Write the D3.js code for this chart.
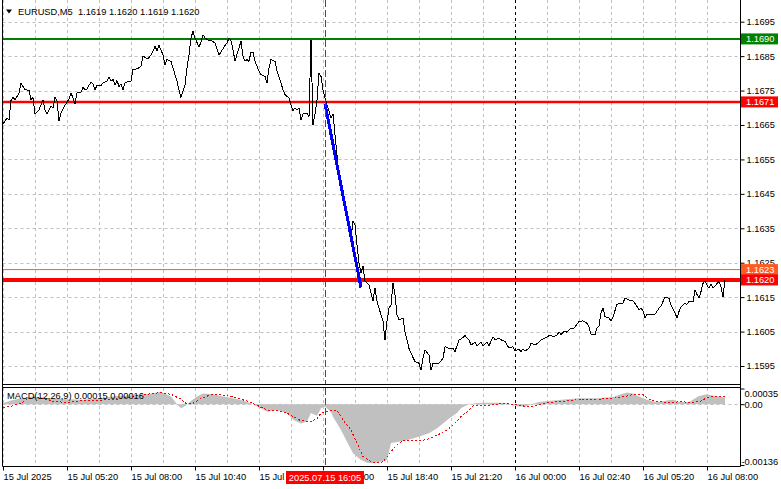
<!DOCTYPE html>
<html><head><meta charset="utf-8">
<script src="https://cdn.jsdelivr.net/npm/d3@7"></script>
<style>
html,body{margin:0;padding:0;background:#fff;}
svg{display:block;font-family:'Liberation Sans',Arial,sans-serif;}
</style></head><body>
<svg id="c" width="781" height="489"></svg>
<script>
// ---------- DATA ----------
const chartTitle = "EURUSD,M5  1.1619 1.1620 1.1619 1.1620";
const macdTitle = "MACD(12,26,9) 0.00015 0.00016";

// bar index (M5 bars from 15 Jul 02:40) and close price
const priceBars = [0,2,3,4,5,6,8,9,11,13,14,15,16,18,20,21,22,24,25,26,27,28,29,31,33,34,35,36,37,39,40,41,42,44,45,46,47,49,50,52,53,54,55,56,57,58,59,60,61,62,64,65,67,69,70,72,73,74,75,76,77,78,80,81,82,84,85,87,88,89,91,92,93,94,95,96,98,99,100,101,103,104,106,108,109,111,112,113,114,115,116,117,119,120,121,122,123,124,125,126,128,129,131,132,133,134,136,137,139,140,141,143,144,145,146,147,148,149,150,152,153,154,155,156,157,158,159,160,161,162,163,164,165,166,167,168,169,170,171,172,173,174,175,176,177,178,179,180,181,182,183,185,186,187,188,190,191,192,193,194,195,196,197,198,200,201,203,204,206,208,209,210,211,213,214,215,218,220,221,223,225,226,228,229,231,233,234,236,237,239,240,242,243,245,246,248,249,251,252,253,255,256,258,259,260,261,263,264,266,268,269,271,273,274,275,277,278,279,281,282,283,284,285,286,288,290,292,293,294,296,297,298,299,300,301,303,304,305,307,308,310,311,313,315,316,318,319,320,321,322,326,328,329,330,331,333,334,336,337,338,339,341,342,343,345,346,347,348,349,350,351,352,353,354,355,356,358,359,360,361];
const priceClose = [1.16653,1.16670,1.16665,1.16721,1.16730,1.16723,1.16743,1.16772,1.16752,1.16751,1.16723,1.16730,1.16682,1.16694,1.16723,1.16694,1.16682,1.16704,1.16699,1.16730,1.16721,1.16662,1.16685,1.16707,1.16726,1.16743,1.16728,1.16711,1.16743,1.16745,1.16759,1.16752,1.16755,1.16775,1.16769,1.16752,1.16765,1.16765,1.16772,1.16777,1.16789,1.16777,1.16782,1.16767,1.16779,1.16762,1.16769,1.16752,1.16772,1.16775,1.16777,1.16811,1.16813,1.16820,1.16850,1.16843,1.16845,1.16854,1.16864,1.16879,1.16866,1.16881,1.16854,1.16825,1.16840,1.16835,1.16816,1.16777,1.16752,1.16730,1.16767,1.16816,1.16854,1.16903,1.16922,1.16903,1.16876,1.16891,1.16912,1.16903,1.16895,1.16896,1.16888,1.16854,1.16862,1.16881,1.16888,1.16903,1.16895,1.16869,1.16835,1.16856,1.16893,1.16850,1.16835,1.16840,1.16835,1.16862,1.16861,1.16835,1.16806,1.16796,1.16791,1.16772,1.16816,1.16840,1.16835,1.16806,1.16772,1.16752,1.16738,1.16728,1.16709,1.16692,1.16699,1.16694,1.16699,1.16665,1.16682,1.16685,1.16675,1.16898,1.16651,1.16682,1.16723,1.16801,1.16791,1.16752,1.16728,1.16709,1.16690,1.16670,1.16682,1.16622,1.16564,1.16506,1.16491,1.16457,1.16428,1.16389,1.16351,1.16322,1.16370,1.16360,1.16302,1.16249,1.16220,1.16240,1.16196,1.16191,1.16186,1.16138,1.16177,1.16138,1.16118,1.16080,1.16026,1.16080,1.16118,1.16128,1.16191,1.16157,1.16099,1.16084,1.16089,1.16050,1.16001,1.15987,1.15963,1.15958,1.15938,1.15972,1.15997,1.15982,1.15938,1.15958,1.15958,1.15972,1.16006,1.16001,1.16001,1.15992,1.16026,1.16028,1.16038,1.16026,1.16011,1.16019,1.16009,1.16019,1.16009,1.16019,1.16009,1.16035,1.16026,1.16031,1.16026,1.16021,1.16011,1.16003,1.16006,1.15994,1.15999,1.15992,1.15999,1.15994,1.16001,1.16016,1.16011,1.16019,1.16026,1.16031,1.16038,1.16040,1.16035,1.16040,1.16048,1.16042,1.16052,1.16048,1.16055,1.16061,1.16057,1.16064,1.16079,1.16081,1.16074,1.16064,1.16042,1.16040,1.16061,1.16067,1.16103,1.16119,1.16093,1.16090,1.16081,1.16093,1.16129,1.16132,1.16132,1.16148,1.16142,1.16139,1.16132,1.16113,1.16119,1.16110,1.16090,1.16100,1.16100,1.16118,1.16125,1.16137,1.16150,1.16147,1.16127,1.16103,1.16090,1.16108,1.16122,1.16132,1.16129,1.16137,1.16137,1.16171,1.16158,1.16148,1.16166,1.16190,1.16197,1.16185,1.16176,1.16187,1.16176,1.16183,1.16195,1.16180,1.16151,1.16200];

// MACD histogram (main) and signal
const histBars = [0,4,9,15,24,32,40,49,57,65,74,79,84,87,89,91,94,97,100,105,110,115,120,125,129,132,137,142,145,149,152,154,157,159,161,164,165,169,172,175,179,182,185,189,192,194,201,207,213,217,220,223,227,229,232,234,236,240,247,252,255,258,262,265,268,272,277,282,288,297,305,309,312,315,318,322,327,332,335,338,343,348,352,355,361];
const histVals = [0.00002,0.00008,0.00013,0.00017,0.00013,0.00011,0.00010,0.00013,0.00018,0.00020,0.00024,0.00028,0.00017,0.00000,-0.00009,-0.00004,0.00007,0.00017,0.00024,0.00022,0.00017,0.00013,0.00008,0.00000,-0.00009,-0.00017,-0.00013,-0.00020,-0.00035,-0.00043,-0.00039,-0.00020,-0.00026,-0.00009,-0.00006,-0.00017,-0.00028,-0.00058,-0.00084,-0.00110,-0.00125,-0.00131,-0.00132,-0.00128,-0.00125,-0.00087,-0.00082,-0.00074,-0.00065,-0.00054,-0.00043,-0.00032,-0.00020,-0.00009,-0.00002,0.00000,0.00002,0.00003,0.00003,0.00002,-0.00002,-0.00005,-0.00004,0.00001,0.00005,0.00007,0.00009,0.00011,0.00013,0.00013,0.00016,0.00022,0.00026,0.00024,0.00017,0.00010,0.00004,0.00008,0.00010,0.00005,0.00005,0.00018,0.00022,0.00019,0.00015];
const signalBars = [0,4,9,12,15,20,25,32,40,49,57,65,72,79,84,89,92,95,99,104,109,114,119,124,129,132,137,142,145,149,154,157,159,164,167,170,174,177,180,184,187,190,194,197,200,205,210,214,219,222,225,229,232,235,239,244,250,255,260,264,267,272,277,282,289,297,305,312,315,320,324,327,334,339,344,349,352,355,361];
const signalVals = [-0.00007,-0.00005,0.00002,0.00011,0.00015,0.00013,0.00006,0.00004,0.00008,0.00009,0.00011,0.00017,0.00022,0.00026,0.00022,0.00011,0.00000,0.00002,0.00013,0.00021,0.00021,0.00017,0.00011,0.00004,-0.00007,-0.00013,-0.00014,-0.00020,-0.00028,-0.00037,-0.00039,-0.00032,-0.00020,-0.00013,-0.00014,-0.00035,-0.00058,-0.00087,-0.00117,-0.00129,-0.00131,-0.00129,-0.00106,-0.00091,-0.00082,-0.00082,-0.00081,-0.00076,-0.00065,-0.00058,-0.00047,-0.00028,-0.00017,-0.00004,-0.00002,-0.00002,0.00002,0.00000,-0.00004,-0.00006,-0.00002,0.00003,0.00006,0.00007,0.00011,0.00011,0.00013,0.00018,0.00022,0.00021,0.00009,0.00006,0.00003,0.00006,0.00003,0.00007,0.00015,0.00018,0.00016];

// horizontal levels
const levelValues = [1.16900, 1.16717, 1.16230, 1.16200];
const levelLabels = ["1.1690", "1.1671", "1.1623", "1.1620"];
// trend segment (blue)
const trendBars = [161, 179];
const trendPrices = [1.16712, 1.16178];

// axes
const priceTicks = [1.1595,1.1605,1.1615,1.1625,1.1635,1.1645,1.1655,1.1665,1.1675,1.1685,1.1695];
const macdTicks = [0.00035, 0, -0.00136];
const macdTickLabels = ["0.00035", "0.00", "-0.00136"];
const timeTickBars = [0,32,64,96,128,160,192,224,256,288,320,352];
const timeTickLabels = ["15 Jul 2025","15 Jul 05:20","15 Jul 08:00","15 Jul 10:40","15 Jul 13:20","15 Jul 16:00","15 Jul 18:40","15 Jul 21:20","16 Jul 00:00","16 Jul 02:40","16 Jul 05:20","16 Jul 08:00"];
const gridBars = d3.range(0, 368, 16);
const markerBar = 161, markerLabel = "2025.07.15 16:05";
const daySepBar = 256;

// ---------- STYLE / LAYOUT ----------
const levelStyles = [
  {color:"#008000", width:2},
  {color:"#ff0000", width:2.5},
  {color:"#ff5a1f", width:1},
  {color:"#ff0000", width:4}
];
const FS = 9.3;
const L = 2.5, R = 740.5, mainBot = 384.5, mTop = 387.5, mBot = 466.5;

const svg = d3.select("#c");
const x = d3.scaleLinear().domain([0, 368.5]).range([3, 740]);
const y = d3.scaleLinear().domain([1.1595, 1.1695]).range([366.0, 21.7]);
const ym = d3.scaleLinear().domain([-0.00136, 0.00035]).range([465, 388.5]);

const defs = svg.append("defs");
defs.append("clipPath").attr("id","cm").append("rect").attr("x",3).attr("y",0).attr("width",737).attr("height",384);
defs.append("clipPath").attr("id","cd").append("rect").attr("x",3).attr("y",388).attr("width",737).attr("height",78);

// grid - main
const gMain = svg.append("g").attr("clip-path","url(#cm)");
gMain.selectAll("line.hg").data(priceTicks).join("line")
  .attr("x1",L).attr("x2",R).attr("y1",d=>Math.round(y(d))+0.5).attr("y2",d=>Math.round(y(d))+0.5)
  .attr("stroke","#c0c0c0").attr("stroke-dasharray","3,3");
gMain.selectAll("line.vg").data(gridBars).join("line")
  .attr("x1",d=>Math.round(x(d))+0.5).attr("x2",d=>Math.round(x(d))+0.5).attr("y1",0).attr("y2",384)
  .attr("stroke","#c0c0c0").attr("stroke-dasharray","3,3");

// grid - macd
const gM = svg.append("g").attr("clip-path","url(#cd)");
gM.selectAll("line.vg").data(gridBars).join("line")
  .attr("x1",d=>Math.round(x(d))+0.5).attr("x2",d=>Math.round(x(d))+0.5).attr("y1",388).attr("y2",466)
  .attr("stroke","#c0c0c0").attr("stroke-dasharray","3,3");
gM.append("line").attr("x1",L).attr("x2",R).attr("y1",Math.round(ym(0))+0.5).attr("y2",Math.round(ym(0))+0.5)
  .attr("stroke","#c0c0c0").attr("stroke-dasharray","3,3");

// MACD histogram
const hist = histBars.map((b,i)=>({b, v:histVals[i]}));
gM.append("path").datum(hist)
  .attr("d", d3.area().x(d=>x(d.b)).y0(ym(0)).y1(d=>ym(d.v)))
  .attr("fill","#c0c0c0");
const sig = signalBars.map((b,i)=>({b, v:signalVals[i]}));
gM.append("path").datum(sig)
  .attr("d", d3.line().x(d=>x(d.b)).y(d=>ym(d.v)))
  .attr("fill","none").attr("stroke","#ff0000").attr("stroke-width",1).attr("stroke-dasharray","2,2")
  .attr("shape-rendering","crispEdges");

// day separator (both panes)
[[0,384],[388,466]].forEach(([a,b])=>{
  svg.append("line").attr("x1",Math.round(x(daySepBar))+0.5).attr("x2",Math.round(x(daySepBar))+0.5)
    .attr("y1",a).attr("y2",b).attr("stroke","#000").attr("stroke-dasharray","3,3");
});

// horizontal levels
levelValues.forEach((v,i)=>{
  gMain.append("line").attr("x1",L).attr("x2",R).attr("y1",y(v)).attr("y2",y(v))
    .attr("stroke",levelStyles[i].color).attr("stroke-width",levelStyles[i].width);
});

// price line
const price = priceBars.map((b,i)=>({b, p:priceClose[i]}));
gMain.append("path").datum(price)
  .attr("d", d3.line().x(d=>x(d.b)).y(d=>y(d.p)))
  .attr("fill","none").attr("stroke","#000").attr("stroke-width",1).attr("shape-rendering","crispEdges");

// trend line
const trend = trendBars.map((b,i)=>({b, p:trendPrices[i]}));
gMain.append("path").datum(trend)
  .attr("d", d3.line().x(d=>x(d.b)).y(d=>y(d.p)))
  .attr("fill","none").attr("stroke","#0000ff").attr("stroke-width",3).attr("shape-rendering","crispEdges");

// red marker vertical dashed
[[0,384],[388,466]].forEach(([a,b])=>{
  svg.append("line").attr("x1",Math.round(x(markerBar))+0.5).attr("x2",Math.round(x(markerBar))+0.5)
    .attr("y1",a).attr("y2",b).attr("stroke","#ff0000").attr("stroke-dasharray","7,3");
});

// frames
const frame = svg.append("g").attr("stroke","#000").attr("stroke-width",1).attr("fill","none");
frame.append("line").attr("x1",L).attr("x2",L).attr("y1",0).attr("y2",mBot);
frame.append("line").attr("x1",R).attr("x2",R).attr("y1",0).attr("y2",mBot);
frame.append("line").attr("x1",L).attr("x2",R).attr("y1",mainBot).attr("y2",mainBot);
frame.append("line").attr("x1",L).attr("x2",R).attr("y1",mTop).attr("y2",mTop);
frame.append("line").attr("x1",L).attr("x2",R).attr("y1",mBot).attr("y2",mBot);

// price axis
const ax = svg.append("g").attr("transform",`translate(${R},0)`)
  .call(d3.axisRight(y).tickValues(priceTicks).tickSize(4).tickFormat(d=>d.toFixed(4)));
ax.select(".domain").remove();
ax.selectAll("text").attr("font-size",FS).attr("font-family","'Liberation Sans',Arial,sans-serif").attr("fill","#000").attr("x",6);
ax.selectAll("line").attr("stroke","#000");

// macd axis
const axm = svg.append("g").attr("transform",`translate(${R},0)`)
  .call(d3.axisRight(ym).tickValues(macdTicks).tickSize(4).tickFormat((d,i)=>macdTickLabels[i]));
axm.select(".domain").remove();
axm.selectAll("text").attr("font-size",FS).attr("font-family","'Liberation Sans',Arial,sans-serif").attr("fill","#000")
  .attr("x",(d,i)=>i===2?1:4).attr("dy",(d,i)=>i===0?"0.85em":(i===2?"-0.1em":"0.32em"));
axm.selectAll("line").attr("stroke","#000");

// level label boxes
levelValues.forEach((v,i)=>{
  const g = svg.append("g");
  g.append("rect").attr("x",741).attr("y",y(v)-5.5).attr("width",37).attr("height",11).attr("fill",levelStyles[i].color);
  g.append("text").attr("x",746).attr("y",y(v)+3.4).attr("font-size",FS).attr("fill","#fff").text(levelLabels[i]);
});

// time axis
const axb = svg.append("g").attr("transform",`translate(0,${mBot})`)
  .call(d3.axisBottom(x).tickValues(timeTickBars).tickSize(4).tickFormat((d,i)=>timeTickLabels[i]));
axb.select(".domain").remove();
axb.selectAll("text").attr("font-size",FS).attr("font-family","'Liberation Sans',Arial,sans-serif").attr("fill","#000")
  .attr("text-anchor","start").attr("x",0);
axb.selectAll("line").attr("stroke","#000");

// marker time box
const mx = x(markerBar);
svg.append("rect").attr("x",mx-39).attr("y",471).attr("width",78).attr("height",13).attr("fill","#ff0000");
svg.append("text").attr("x",mx).attr("y",481).attr("text-anchor","middle").attr("font-size",FS).attr("fill","#fff").text(markerLabel);

// titles
svg.append("path").attr("d","M6,9.5 L12,9.5 L9,13.5 Z").attr("fill","#000");
svg.append("text").attr("x",18).attr("y",14.5).attr("font-size",FS).attr("fill","#000").style("white-space","pre").text(chartTitle);
svg.append("text").attr("x",7).attr("y",399).attr("font-size",FS).attr("fill","#000").style("white-space","pre").text(macdTitle);
</script>
</body></html>
